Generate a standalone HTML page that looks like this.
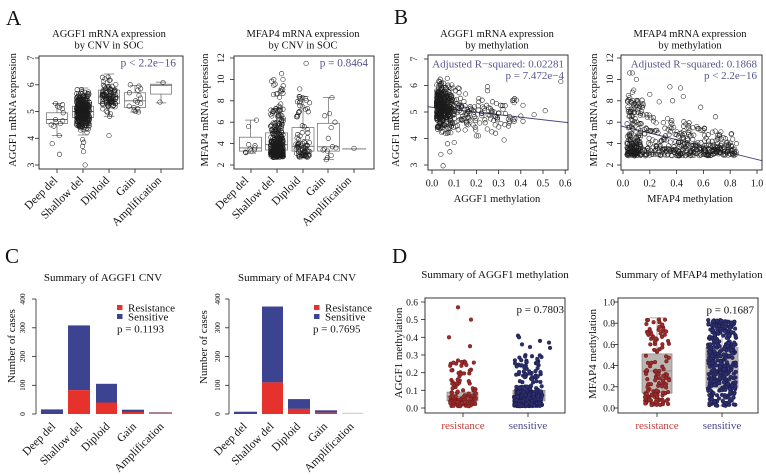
<!DOCTYPE html>
<html><head><meta charset="utf-8">
<style>
html,body{margin:0;padding:0;background:#fff;}
svg{display:block;font-family:"Liberation Serif","Times New Roman",serif;}
</style></head><body>
<svg id="s" width="766" height="475" viewBox="0 0 766 475" xmlns="http://www.w3.org/2000/svg">
<rect width="766" height="475" fill="#fff"/>
<g id="bg"></g>
<g id="pts"></g>
<g fill="none" stroke="#222" stroke-width="0.9">
<rect x="39" y="56" width="144" height="113"/>
<rect x="234" y="56" width="140" height="113"/>
<rect x="428" y="55" width="140" height="115"/>
<rect x="621" y="55" width="141" height="115"/>
<rect x="425" y="298" width="140" height="115"/>
<rect x="618" y="298" width="140" height="115"/>
</g>
<g id="tk"></g>

<g fill="#111">
<text x="6" y="25" font-size="21">A</text>
<text x="394" y="24" font-size="21">B</text>
<text x="5" y="263" font-size="21">C</text>
<text x="392" y="263" font-size="21">D</text>

<g font-size="10.5" text-anchor="middle">
<text x="109" y="37">AGGF1 mRNA expression</text>
<text x="109" y="48.5">by CNV in  SOC</text>
<text x="303" y="37">MFAP4 mRNA expression</text>
<text x="303" y="48.5">by CNV  in SOC</text>
<text x="497" y="37">AGGF1 mRNA expression</text>
<text x="497" y="48.5">by methylation</text>
<text x="690" y="37">MFAP4 mRNA expression</text>
<text x="690" y="48.5">by methylation</text>
</g>
<g font-size="10.5" text-anchor="middle">
<text transform="translate(16,110) rotate(-90)">AGGF1 mRNA expression</text>
<text transform="translate(208,110) rotate(-90)">MFAP4 mRNA expression</text>
<text transform="translate(399,110) rotate(-90)">AGGF1 mRNA expression</text>
<text transform="translate(597,110) rotate(-90)">MFAP4 mRNA expression</text>
<text x="497" y="202">AGGF1 methylation</text>
<text x="690" y="202">MFAP4 methylation</text>
</g>
<g font-size="9.5" text-anchor="middle">
<text transform="translate(34,165) rotate(-90)">3</text>
<text transform="translate(34,138.25) rotate(-90)">4</text>
<text transform="translate(34,111.5) rotate(-90)">5</text>
<text transform="translate(34,84.75) rotate(-90)">6</text>
<text transform="translate(34,58) rotate(-90)">7</text>
<text transform="translate(224,165) rotate(-90)">2</text>
<text transform="translate(224,143.6) rotate(-90)">4</text>
<text transform="translate(224,122.2) rotate(-90)">6</text>
<text transform="translate(224,100.8) rotate(-90)">8</text>
<text transform="translate(224,79.4) rotate(-90)">10</text>
<text transform="translate(224,58) rotate(-90)">12</text>
<text transform="translate(417,165) rotate(-90)">3</text>
<text transform="translate(417,138.5) rotate(-90)">4</text>
<text transform="translate(417,112) rotate(-90)">5</text>
<text transform="translate(417,85.5) rotate(-90)">6</text>
<text transform="translate(417,59) rotate(-90)">7</text>
<text transform="translate(613,165) rotate(-90)">2</text>
<text transform="translate(613,143.6) rotate(-90)">4</text>
<text transform="translate(613,122.2) rotate(-90)">6</text>
<text transform="translate(613,100.8) rotate(-90)">8</text>
<text transform="translate(613,79.4) rotate(-90)">10</text>
<text transform="translate(613,58) rotate(-90)">12</text>
</g>
<g font-size="10" text-anchor="middle">
<text x="432" y="186.5">0.0</text>
<text x="454.2" y="186.5">0.1</text>
<text x="476.4" y="186.5">0.2</text>
<text x="498.6" y="186.5">0.3</text>
<text x="520.8" y="186.5">0.4</text>
<text x="543" y="186.5">0.5</text>
<text x="565.2" y="186.5">0.6</text>
<text x="623" y="186.5">0.0</text>
<text x="649.8" y="186.5">0.2</text>
<text x="676.6" y="186.5">0.4</text>
<text x="703.4" y="186.5">0.6</text>
<text x="730.2" y="186.5">0.8</text>
<text x="757" y="186.5">1.0</text>
</g>
<g font-size="11.5" text-anchor="end">
<text transform="translate(58,181) rotate(-45)">Deep del</text>
<text transform="translate(84,181) rotate(-45)">Shallow del</text>
<text transform="translate(110,181) rotate(-45)">Diploid</text>
<text transform="translate(136,181) rotate(-45)">Gain</text>
<text transform="translate(162,181) rotate(-45)">Amplification</text>
<text transform="translate(249,181) rotate(-45)">Deep del</text>
<text transform="translate(275,181) rotate(-45)">Shallow del</text>
<text transform="translate(301,181) rotate(-45)">Diploid</text>
<text transform="translate(326,181) rotate(-45)">Gain</text>
<text transform="translate(352,181) rotate(-45)">Amplification</text>
</g>
</g>
<g fill="#55558c" text-anchor="end">
<text x="176" y="66.5" font-size="11.5">p &lt; 2.2e−16</text>
<text x="368" y="66.5" font-size="11.2">p = 0.8464</text>
<text x="564" y="67.5" font-size="11">Adjusted R−squared:  0.02281</text>
<text x="564" y="79" font-size="11">p = 7.472e−4</text>
<text x="757" y="67.5" font-size="11">Adjusted R−squared:  0.1868</text>
<text x="757" y="79" font-size="11">p &lt; 2.2e−16</text>
</g>

<g fill="#111">
<g font-size="11" text-anchor="middle">
<text x="103" y="281">Summary of AGGF1 CNV</text>
<text x="297" y="281">Summary of MFAP4 CNV</text>
<text transform="translate(15,346) rotate(-90)">Number of cases</text>
<text transform="translate(207,347) rotate(-90)">Number of cases</text>
</g>
<g font-size="7.5" text-anchor="middle">
<text transform="translate(25,414) rotate(-90)">0</text>
<text transform="translate(25,385.25) rotate(-90)">100</text>
<text transform="translate(25,356.5) rotate(-90)">200</text>
<text transform="translate(25,327.75) rotate(-90)">300</text>
<text transform="translate(25,299) rotate(-90)">400</text>
<text transform="translate(220,414) rotate(-90)">0</text>
<text transform="translate(220,385.25) rotate(-90)">100</text>
<text transform="translate(220,356.5) rotate(-90)">200</text>
<text transform="translate(220,327.75) rotate(-90)">300</text>
<text transform="translate(220,299) rotate(-90)">400</text>
</g>
<g font-size="11">
<text x="128" y="311.5">Resistance</text>
<text x="128" y="320.5">Sensitive</text>
<text x="117" y="332.5">p = 0.1193</text>
<text x="325" y="311.5">Resistance</text>
<text x="325" y="320.5">Sensitive</text>
<text x="313" y="332.5">p = 0.7695</text>
</g>
<g font-size="11.5" text-anchor="end">
<text transform="translate(56,427) rotate(-45)">Deep del</text>
<text transform="translate(83,427) rotate(-45)">Shallow del</text>
<text transform="translate(110.5,427) rotate(-45)">Diploid</text>
<text transform="translate(137,427) rotate(-45)">Gain</text>
<text transform="translate(164.5,427) rotate(-45)">Amplification</text>
<text transform="translate(247.5,427) rotate(-45)">Deep del</text>
<text transform="translate(274.5,427) rotate(-45)">Shallow del</text>
<text transform="translate(301,427) rotate(-45)">Diploid</text>
<text transform="translate(328,427) rotate(-45)">Gain</text>
<text transform="translate(354.5,427) rotate(-45)">Amplification</text>
</g>

<g font-size="11" text-anchor="middle">
<text x="495" y="278">Summary of  AGGF1 methylation</text>
<text x="689" y="278">Summary of MFAP4 methylation</text>
<text transform="translate(402,353) rotate(-90)">AGGF1 methylation</text>
<text transform="translate(596,354) rotate(-90)">MFAP4 methylation</text>
</g>
<g font-size="9.5" text-anchor="end">
<text x="418" y="411.5">0.0</text>
<text x="418" y="393.8">0.1</text>
<text x="418" y="376.2">0.2</text>
<text x="418" y="358.5">0.3</text>
<text x="418" y="340.8">0.4</text>
<text x="418" y="323.2">0.5</text>
<text x="418" y="305.5">0.6</text>
<text x="615" y="411.5">0.0</text>
<text x="615" y="390.3">0.2</text>
<text x="615" y="369.1">0.4</text>
<text x="615" y="347.9">0.6</text>
<text x="615" y="326.7">0.8</text>
<text x="615" y="305.5">1.0</text>
</g>
<g font-size="11" text-anchor="end">
<text x="564" y="313">p = 0.7803</text>
<text x="754" y="313.5">p = 0.1687</text>
</g>
<g font-size="11" text-anchor="middle">
<text x="463" y="429" fill="#c0403c">resistance</text>
<text x="528" y="429" fill="#4a4a8c">sensitive</text>
<text x="657" y="429" fill="#c0403c">resistance</text>
<text x="722" y="429" fill="#4a4a8c">sensitive</text>
</g>
</g>
</svg>
<script>
(function(){
var s=987654321;
function r(){s^=s<<13;s^=s>>>17;s^=s<<5;return ((s>>>0)%1000003)/1000003;}
function n(){var u=r()||1e-6,v=r();return Math.sqrt(-2*Math.log(u))*Math.cos(6.2831853*v);}
function clamp(v,a,b){return Math.max(a,Math.min(b,v));}
var bg=[],pt=[],tk=[];
function L(a,x1,y1,x2,y2,c,w){a.push('<line x1="'+x1.toFixed(1)+'" y1="'+y1.toFixed(1)+'" x2="'+x2.toFixed(1)+'" y2="'+y2.toFixed(1)+'" stroke="'+(c||'#222')+'" stroke-width="'+(w||0.8)+'"/>');}
function R(a,x,y,w,h,f,st,sw){a.push('<rect x="'+x.toFixed(1)+'" y="'+y.toFixed(1)+'" width="'+w.toFixed(1)+'" height="'+h.toFixed(1)+'" fill="'+f+'"'+(st?' stroke="'+st+'" stroke-width="'+(sw||0.8)+'"':'')+'/>');}
function C(x,y,rad,f,st,sw){pt.push('<circle cx="'+x.toFixed(1)+'" cy="'+y.toFixed(1)+'" r="'+rad+'" fill="'+f+'" stroke="'+st+'" stroke-width="'+sw+'"/>');}
function O(x,y){C(x,y,2.25,'none','#1c1c1c',0.55);}
function box(a,cx,hw,q1,md,q3,lo,hi,ym,st,fill,whisk){
  var y1=ym(q3),y2=ym(q1);
  if(whisk){
    L(a,cx,ym(hi),cx,y1,st,0.7);L(a,cx,y2,cx,ym(lo),st,0.7);
    L(a,cx-hw/2,ym(hi),cx+hw/2,ym(hi),st,0.7);L(a,cx-hw/2,ym(lo),cx+hw/2,ym(lo),st,0.7);
  }
  R(a,cx-hw,y1,2*hw,y2-y1,fill,st,0.7);
  L(a,cx-hw,ym(md),cx+hw,ym(md),st,0.9);
}
var yA1=function(v){return 165-(v-3)*26.75;};
box(bg,57,10.5,4.55,4.7,4.95,4.1,5.3,yA1,'#666','none',1);
box(bg,83,10.5,4.78,5.0,5.2,4.12,5.88,yA1,'#666','none',1);
box(bg,109,10.5,5.3,5.55,5.8,4.82,6.4,yA1,'#666','none',1);
box(bg,135,10.5,5.15,5.4,5.7,4.98,5.98,yA1,'#666','none',1);
box(bg,161,10.5,5.65,5.98,6.02,5.32,6.1,yA1,'#666','none',1);
[5.3,5.2,5.15,5.1,4.95,4.7,4.65,4.6,4.55,4.5,4.45,4.1,3.8,3.4,5.25].forEach(function(v){O(57+(r()-.5)*14,yA1(v));});
for(var i=0;i<330;i++){O(83+(r()-.5)*13,yA1(clamp(5.0+n()*0.32,4.1,5.95)));}
[3.95,3.85,3.7,3.5,3.0].forEach(function(v){O(83+(r()-.5)*6,yA1(v));});
for(i=0;i<100;i++){O(109+(r()-.5)*14,yA1(clamp(5.55+n()*0.35,4.82,6.42)));}
O(109,yA1(4.1));
[6.0,5.95,5.85,5.8,5.7,5.6,5.5,5.4,5.35,5.3,5.2,5.15,5.1,5.0,4.98,5.05].forEach(function(v){O(135+(r()-.5)*14,yA1(v));});
O(163,yA1(6.08));O(160,yA1(5.35));
var yA2=function(v){return 165-(v-2)*10.7;};
box(bg,250.5,11,3.3,3.6,4.6,3.1,6.2,yA2,'#666','none',1);
box(bg,276.5,11,3.4,3.9,5.0,2.7,7.3,yA2,'#666','none',1);
box(bg,303,11,3.3,3.75,5.5,2.7,8.4,yA2,'#666','none',1);
box(bg,328.5,11,3.3,3.7,5.9,2.5,8.3,yA2,'#666','none',1);
L(bg,342,yA2(3.5),366,yA2(3.5),'#666',0.9);
[6.2,5.6,3.9,3.8,3.6,3.5,3.4,3.3,3.2,3.15].forEach(function(v){O(251+(r()-.5)*14,yA2(v));});
for(i=0;i<340;i++){var u=r(),v=u<0.68?2.7+Math.abs(n())*0.9:(u<0.93?4+r()*3.4:7+r()*3.7);O(277+(r()-.5)*13,yA2(clamp(v,2.65,10.7)));}
for(i=0;i<80;i++){u=r();v=u<0.7?2.7+Math.abs(n())*0.8:4.5+r()*4;O(303+(r()-.5)*14,yA2(clamp(v,2.7,8.6)));}
[11.5,9.1,8.4,8.3,7,6.9].forEach(function(v){O(303+(r()-.5)*10,yA2(v));});
[8.3,6.8,6.6,6.0,5.5,4.5,3.7,3.5,3.4,3.3,2.9,2.7,2.5,3.6].forEach(function(v){O(328+(r()-.5)*16,yA2(v));});
O(354,yA2(3.55));
var xB1=function(v){return 432+v*222;},yB1=function(v){return 165-(v-3)*26.5;};
for(i=0;i<380;i++){var x=clamp(0.02+Math.abs(n())*0.035,0.015,0.14);var y=clamp(5.2+n()*0.42,4.2,6.4);O(xB1(x),yB1(y));}
for(i=0;i<140;i++){x=0.08+Math.pow(r(),1.6)*0.3;y=clamp(5.05-x*0.8+n()*0.38,3.8,6.0);O(xB1(x),yB1(y));}
[[0.58,6.15],[0.51,5.05],[0.41,4.65],[0.4,4.85],[0.38,5.45],[0.37,5.35],[0.41,5.25],[0.25,5.95],[0.25,5.8],[0.05,2.97],[0.04,3.4],[0.08,3.5],[0.07,3.8],[0.1,3.85],[0.2,4.1],[0.21,4.1],[0.27,4.25],[0.35,4.65],[0.37,4.65],[0.46,4.9],[0.32,5.1],[0.3,4.95],[0.28,5.0]].forEach(function(p){O(xB1(p[0]),yB1(p[1]));});
L(bg,428,106.7,568,122.6,'#4a4a80',1);
var xB2=function(v){return 623+v*134;},yB2=function(v){return 165-(v-2)*10.7;};
for(i=0;i<540;i++){
  x=r()<0.25?0.03+r()*0.1:0.03+r()*0.82;
  var pu=x<0.2?0.42:(x<0.5?0.3:0.2);
  if(r()<pu){y=4+r()*(x<0.2?4.2:Math.max(0.8,3.2-x*2.5));}else{y=2.85+Math.abs(n())*0.75;}
  O(xB2(x),yB2(clamp(y,2.6,11)));
}
[[0.05,10.6],[0.07,10.6],[0.1,10.0],[0.35,9.3],[0.43,9.2],[0.45,8.4],[0.58,7.4],[0.69,6.5],[0.27,7.9],[0.37,8.0],[0.2,8.6],[0.04,8.5],[0.08,9.0],[0.07,8.8],[0.05,8.3],[0.06,7.2],[0.05,6.9],[0.05,6.6],[0.15,7.6],[0.14,7.5]].forEach(function(p){O(xB2(p[0]),yB2(p[1]));});
L(bg,621,126,762,160.7,'#4a4a80',1);
[57,83,109,135,161].forEach(function(x){L(tk,x,169,x,173);});
[3,4,5,6,7].forEach(function(v){L(tk,35,yA1(v),39,yA1(v));});
[251,277,303,328,354].forEach(function(x){L(tk,x,169,x,173);});
[2,4,6,8,10,12].forEach(function(v){L(tk,230,yA2(v),234,yA2(v));});
[0,.1,.2,.3,.4,.5,.6].forEach(function(v){L(tk,xB1(v),170,xB1(v),174);});
[3,4,5,6,7].forEach(function(v){L(tk,424,yB1(v),428,yB1(v));});
[0,.2,.4,.6,.8,1].forEach(function(v){L(tk,xB2(v),170,xB2(v),174);});
[2,4,6,8,10,12].forEach(function(v){L(tk,617,yB2(v),621,yB2(v));});
var yC=function(v){return 414-v*0.2875;};
function bar(x1,x2,res,tot){R(bg,x1,yC(tot),x2-x1,yC(res)-yC(tot),'#3c4391');if(res>0)R(bg,x1,yC(res),x2-x1,414-yC(res),'#e5322d');}
bar(41,63,0,16);bar(68,90,83,308);bar(96,117,40,105);bar(122,144,7,15);
R(bg,149,412.3,23,1.4,'#8e4a6a');
bar(234,257,0,8);bar(262,283,110,374);bar(288,310,18,52);bar(315,337,5,13);
R(bg,342,412.8,21,1,'#c8c8d2');
L(tk,36,299,36,414);L(tk,229,299,229,414);
[0,100,200,300,400].forEach(function(v){L(tk,32,yC(v),36,yC(v));L(tk,225,yC(v),229,yC(v));});
R(tk,117,305,5.5,5,'#e5322d');R(tk,117,314,5.5,5,'#3c4391');
R(tk,314,305,5.5,5,'#e5322d');R(tk,314,314,5.5,5,'#3c4391');
var yD1=function(v){return 408-v*176.7;},yD2=function(v){return 408-v*106;};
box(bg,462.5,15.5,0.04,0.065,0.09,0.01,0.15,yD1,'#8c8682','#bcb6b2',0);
box(bg,529,16,0.04,0.07,0.1,0.01,0.2,yD1,'#8c8682','#bcb6b2',0);
box(bg,657,15,0.14,0.35,0.51,0.02,0.85,yD2,'#8c8682','#bcb6b2',1);
box(bg,722,16,0.19,0.39,0.57,0.02,0.83,yD2,'#8c8682','#bcb6b2',1);
function RP(x,y){C(x,y,1.9,'#9c2b2b','#5e1515',0.4);}
function SP(x,y){C(x,y,1.9,'#2c2e6e','#15163d',0.4);}
for(i=0;i<140;i++){u=r();v=u<0.8?0.01+Math.abs(n())*0.045:0.1+r()*0.17;RP(463+(r()-.5)*26,yD1(clamp(v,0.005,0.27)));}
[[458,0.57],[471,0.5],[449,0.4],[470,0.35]].forEach(function(p){RP(p[0],yD1(p[1]));});
for(i=0;i<330;i++){u=r();v=u<0.78?0.01+Math.abs(n())*0.05:0.1+r()*0.2;SP(528+(r()-.5)*28,yD1(clamp(v,0.005,0.3)));}
[[518,0.41],[519,0.4],[540,0.38],[549,0.37],[522,0.36],[530,0.345],[550,0.34]].forEach(function(p){SP(p[0],yD1(p[1]));});
for(i=0;i<140;i++){u=r();v=u<0.3?0.02+r()*0.12:0.12+r()*0.72;RP(657+(r()-.5)*24,yD2(v));}
for(i=0;i<370;i++){v=0.02+r()*0.81;SP(722+(r()-.5)*28,yD2(v));}
[463,528].forEach(function(x){L(tk,x,413,x,417);});
[0,.1,.2,.3,.4,.5,.6].forEach(function(v){L(tk,421,yD1(v),425,yD1(v));});
[657,722].forEach(function(x){L(tk,x,413,x,417);});
[0,.2,.4,.6,.8,1].forEach(function(v){L(tk,614,yD2(v),618,yD2(v));});
document.getElementById('bg').innerHTML=bg.join('');
document.getElementById('pts').innerHTML=pt.join('');
document.getElementById('tk').innerHTML=tk.join('');
})();
</script>
</body></html>
